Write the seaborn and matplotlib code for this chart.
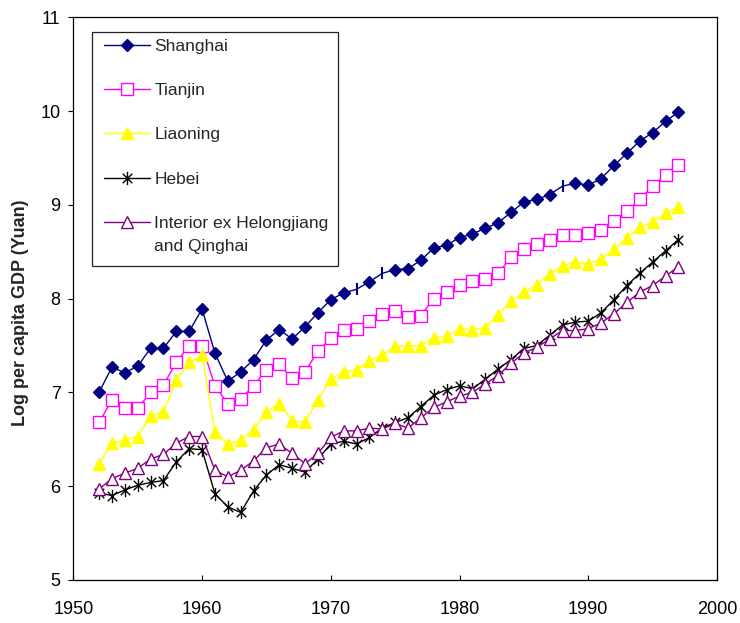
import matplotlib
matplotlib.use("Agg")
import matplotlib.pyplot as plt
from matplotlib.path import Path
from matplotlib.patches import Rectangle
from matplotlib.lines import Line2D
import seaborn as sns

# ---- data: log per capita GDP (Yuan), 1952-1997 ----
years = list(range(1952, 1998))

shanghai = [7.00, 7.27, 7.21, 7.28, 7.47, 7.47, 7.65, 7.65, 7.89, 7.42,
            7.12, 7.22, 7.35, 7.56, 7.67, 7.57, 7.70, 7.85, 7.99, 8.06,
            8.10, 8.18, 8.27, 8.31, 8.32, 8.41, 8.54, 8.57, 8.65, 8.69,
            8.75, 8.81, 8.92, 9.03, 9.06, 9.11, 9.20, 9.23, 9.21, 9.28,
            9.42, 9.55, 9.68, 9.77, 9.89, 9.99]

tianjin = [6.68, 6.92, 6.83, 6.83, 7.00, 7.08, 7.32, 7.50, 7.50, 7.07,
           6.88, 6.93, 7.07, 7.24, 7.30, 7.15, 7.22, 7.44, 7.58, 7.67,
           7.68, 7.76, 7.84, 7.87, 7.80, 7.82, 8.00, 8.07, 8.15, 8.19,
           8.21, 8.27, 8.44, 8.53, 8.58, 8.63, 8.68, 8.68, 8.70, 8.73,
           8.83, 8.93, 9.06, 9.20, 9.32, 9.43]

liaoning = [6.24, 6.46, 6.49, 6.53, 6.75, 6.79, 7.13, 7.32, 7.40, 6.58,
            6.45, 6.49, 6.60, 6.79, 6.88, 6.70, 6.68, 6.92, 7.14, 7.22,
            7.24, 7.34, 7.40, 7.49, 7.50, 7.50, 7.58, 7.60, 7.68, 7.67,
            7.69, 7.83, 7.97, 8.07, 8.15, 8.26, 8.35, 8.39, 8.37, 8.42,
            8.53, 8.65, 8.76, 8.82, 8.91, 8.98]

hebei = [5.93, 5.90, 5.96, 6.01, 6.04, 6.06, 6.26, 6.40, 6.39, 5.92,
         5.78, 5.72, 5.95, 6.12, 6.23, 6.19, 6.15, 6.29, 6.45, 6.48,
         6.45, 6.52, 6.62, 6.68, 6.73, 6.85, 6.97, 7.03, 7.07, 7.04,
         7.14, 7.25, 7.35, 7.47, 7.50, 7.61, 7.72, 7.75, 7.76, 7.85,
         7.99, 8.14, 8.27, 8.39, 8.51, 8.63]

interior = [5.97, 6.08, 6.14, 6.19, 6.29, 6.34, 6.46, 6.53, 6.53, 6.17,
            6.10, 6.17, 6.27, 6.41, 6.45, 6.35, 6.24, 6.35, 6.52, 6.59,
            6.59, 6.62, 6.61, 6.67, 6.62, 6.73, 6.84, 6.90, 6.96, 7.00,
            7.09, 7.18, 7.31, 7.42, 7.48, 7.57, 7.66, 7.66, 7.68, 7.74,
            7.84, 7.96, 8.07, 8.14, 8.24, 8.34]

series_names = ["Shanghai", "Tianjin", "Liaoning", "Hebei",
                "Interior ex Helongjiang"]
series_values = [shanghai, tianjin, liaoning, hebei, interior]

# Shanghai years whose marker shows as a bare vertical bar
bar_years = [1972, 1974, 1988]

x_ticks = [1950, 1960, 1970, 1980, 1990, 2000]
y_ticks = [5, 6, 7, 8, 9, 10, 11]

# ---- styling ----
sns.set_theme(style="white")
plt.rcParams["font.family"] = ["Liberation Sans", "DejaVu Sans"]

# asterisk-style marker: vertical stroke plus an X
star = Path([(0, -1), (0, 1), (-0.72, -0.72), (0.72, 0.72),
             (-0.72, 0.72), (0.72, -0.72)],
            [Path.MOVETO, Path.LINETO] * 3)

styles = [
    dict(color="#000080", marker="D", markersize=6.2,
         markerfacecolor="#000080", markeredgecolor="#000080"),
    dict(color="#FF00FF", marker="s", markersize=9,
         markerfacecolor="white", markeredgecolor="#FF00FF"),
    dict(color="#FFFF00", marker="^", markersize=9,
         markerfacecolor="#FFFF00", markeredgecolor="#FFFF00"),
    dict(color="#000000", marker=star, markersize=9.5,
         markerfacecolor="none", markeredgecolor="#000000"),
    dict(color="#800080", marker="^", markersize=9,
         markerfacecolor="white", markeredgecolor="#800080"),
]

W, H = 740, 623
fig = plt.figure(figsize=(W / 100, H / 100), dpi=100)
ax_l, ax_r, ax_t, ax_b = 73.3, 717.0, 17.3, 580.0
ax = fig.add_axes([ax_l / W, 1 - ax_b / H, (ax_r - ax_l) / W, (ax_b - ax_t) / H])

for name, vals, st in zip(series_names, series_values, styles):
    kw = dict(st)
    if name == "Shanghai":
        kw["markevery"] = [i for i, y in enumerate(years) if y not in bar_years]
    sns.lineplot(x=years, y=vals, ax=ax, linewidth=1.0, markeredgewidth=1.0,
                 errorbar=None, legend=False, zorder=3, **kw)

# Shanghai points drawn as short vertical bars
bar_idx = [years.index(y) for y in bar_years]
sns.lineplot(x=[years[i] for i in bar_idx], y=[shanghai[i] for i in bar_idx],
             ax=ax, linestyle="", marker="|", markersize=8.5,
             markeredgewidth=1.5, markeredgecolor="#000080", color="#000080",
             errorbar=None, legend=False, zorder=3)

ax.set_xlim(1950, 2000)
ax.set_ylim(5, 11)
ax.set_xticks(x_ticks)
ax.set_yticks(y_ticks)
ax.set_xlabel("")
ax.set_ylabel("Log per capita GDP (Yuan)", fontsize=13, fontweight="bold")
ax.yaxis.set_label_coords((21 - ax_l) / (ax_r - ax_l), (ax_b - 313) / (ax_b - ax_t))
ax.yaxis.label.set_verticalalignment("center")

ax.tick_params(axis="x", direction="in", length=3.6, width=0.8, pad=15,
               labelsize=13, colors="black", bottom=True)
ax.tick_params(axis="y", direction="out", length=3.6, width=0.8, pad=5.5,
               labelsize=13, colors="black", left=True)
for sp in ax.spines.values():
    sp.set_color("black")
    sp.set_linewidth(0.9)

# ---- legend in its own framed box ----
box = Rectangle((91.7 / W, 1 - 265.7 / H), 246.6 / W, 234.0 / H,
                transform=fig.transFigure, facecolor="white",
                edgecolor="#222222", linewidth=0.9, zorder=4)
ax.add_patch(box)
box.set_clip_on(False)

handles = [Line2D([], [], linewidth=1.0, markeredgewidth=1.0, **st) for st in styles]
leg = ax.legend(handles, series_names, loc="upper left",
                bbox_to_anchor=(104 / W, 1 - 38.5 / H),
                bbox_transform=fig.transFigure, frameon=False, borderpad=0,
                borderaxespad=0, handlelength=2.65, handletextpad=0.25,
                labelspacing=1.68, fontsize=12.5)
leg.set_zorder(5)

fig.canvas.draw()
tb = leg.get_texts()[-1].get_window_extent()
fig.text(tb.x0 / W, (tb.y0 + tb.y1) / 2 / H - 23.3 / H, "and Qinghai",
         fontsize=12.5, va="center", ha="left", zorder=6)

fig.savefig("out.png", dpi=100)
